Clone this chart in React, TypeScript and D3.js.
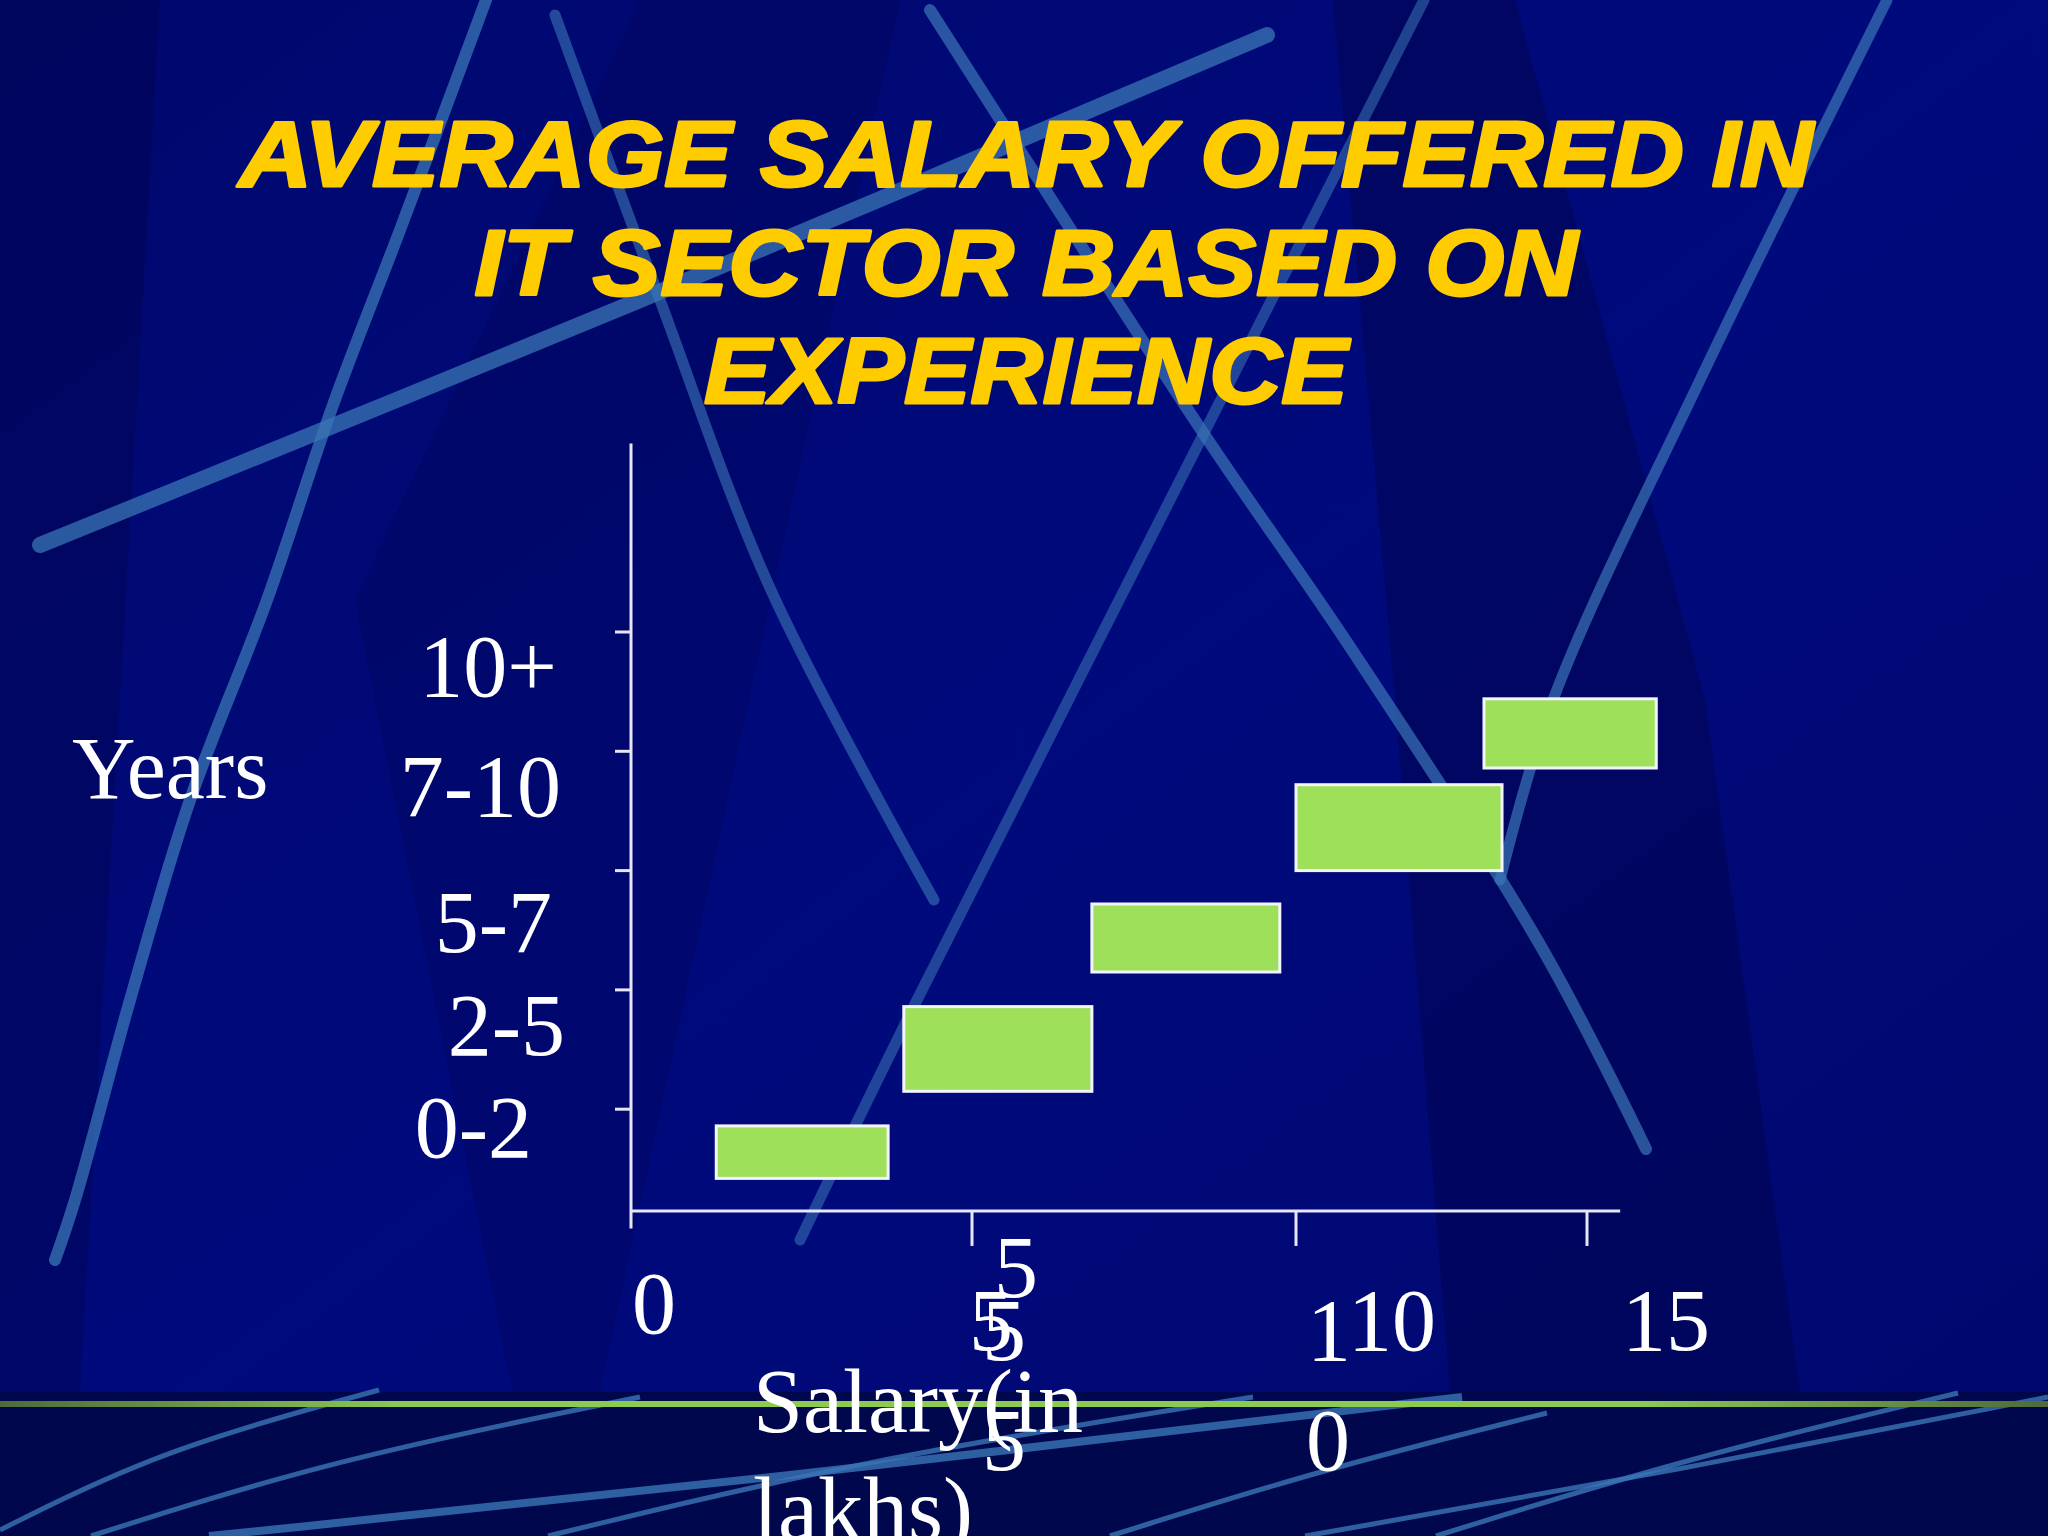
import React from "react";
import * as d3 from "d3";

// ---------- data ----------
const titleLines = ["AVERAGE SALARY OFFERED IN", "IT SECTOR BASED ON", "EXPERIENCE"];
const categories = ["0-2", "2-5", "5-7", "7-10", "10+"];
const salaryLow = [1.25, 4.0, 6.85, 10.0, 13.23];
const salaryHigh = [3.77, 6.85, 9.75, 13.54, 16.19];
const rowLow = [0.42, 1.15, 2.15, 3.0, 3.86];
const rowHigh = [0.86, 1.86, 2.72, 3.72, 4.44];
const xTickValues = [0, 5, 10, 15];
const yTickValues = [1, 2, 3, 4, 5];
const yAxisTitle = "Years";
const xAxisTitle = ["Salary(in", "lakhs)"];
// garbled x tick label fragments as they appear on the slide
const xLabelText = ["0", "5", "5", "5", "-", "5", "1", "10", "0", "15"];
const xLabelTick = [0, 5, 5, 5, 5, 5, 10, 10, 10, 15];

// ---------- layout ----------
const W = 2048;
const H = 1536;
const xLabelDx = [1, 22, -3, 10, 14, 10, 11, 52, 10, 35];
const xLabelBaseline = [1333, 1297, 1350, 1360, 1437, 1470, 1360, 1350, 1470, 1350];
const yLabelRight = [532, 565, 552, 561, 557];
const yLabelBaseline = [1157, 1055, 952, 816, 696];
const titleBaseline = [186, 295, 403];
const titleWidth = [1574, 1103, 644];

const x = d3.scaleLinear().domain([0, 5, 10, 15]).range([631, 972, 1296, 1587]);
const y = d3.scaleLinear().domain([0, 5]).range([1228.5, 632]);
const xAxisEnd = 15.57;
const yAxisTop = 6.58;
const xAxisAt = 0.147;

// decorative background streaks
const streaks: { pts: [number, number][]; w: number; o: number }[] = [
  { pts: [[40, 545], [640, 300], [1267, 35]], w: 16, o: 0.75 },
  { pts: [[486, 0], [400, 230], [333, 405], [267, 600], [190, 800], [130, 1000], [75, 1200], [55, 1260]], w: 12, o: 0.75 },
  { pts: [[555, 15], [660, 300], [770, 588], [934, 900]], w: 11, o: 0.6 },
  { pts: [[930, 10], [1202, 431], [1352, 650], [1543, 950], [1646, 1149]], w: 12, o: 0.7 },
  { pts: [[1424, 0], [1170, 500], [914, 1006], [800, 1240]], w: 11, o: 0.55 },
  { pts: [[1887, 0], [1700, 380], [1553, 700], [1500, 880]], w: 11, o: 0.7 },
];
const bandCurves: [number, number][][] = [
  [[0, 1530], [160, 1450], [379, 1390]],
  [[91, 1536], [330, 1460], [640, 1397]],
  [[209, 1536], [760, 1480], [1462, 1397]],
  [[548, 1536], [860, 1460], [1253, 1397]],
  [[1110, 1536], [1320, 1470], [1547, 1413]],
  [[1305, 1536], [1680, 1470], [2048, 1397]],
  [[1436, 1536], [1680, 1460], [1958, 1393]],
];
const shades: { pts: [number, number][]; c: string; o: number }[] = [
  { pts: [[1333, 0], [1515, 0], [1705, 700], [1800, 1392], [1450, 1392], [1395, 700]], c: "#000030", o: 0.3 },
  { pts: [[0, 0], [160, 0], [80, 1392], [0, 1392]], c: "#000030", o: 0.25 },
  { pts: [[355, 600], [640, 0], [900, 0], [600, 1392], [512, 1392]], c: "#000030", o: 0.15 },
];

const serif = "'Liberation Serif', 'Times New Roman', serif";
const sans = "'Liberation Sans', Arial, sans-serif";
const axisColor = "#E6E6F5";

export default function App() {
  const lineGen = d3.line<[number, number]>().curve(d3.curveCatmullRom.alpha(0.5));
  const bandGen = d3.line<[number, number]>().curve(d3.curveBasis);
  const polyGen = d3.line<[number, number]>();

  return (
    <svg
      width={W}
      height={H}
      viewBox={`0 0 ${W} ${H}`}
      style={{ position: "fixed", left: 0, top: 0, display: "block" }}
    >
      <defs>
        <linearGradient id="bg" x1="0" y1="0" x2="1" y2="1">
          <stop offset="0" stopColor="#00086E" />
          <stop offset="0.5" stopColor="#000A7C" />
          <stop offset="1" stopColor="#00086E" />
        </linearGradient>
        <linearGradient id="greenLine" x1="0" x2="1" y1="0" y2="0">
          <stop offset="0" stopColor="#4E6A3A" />
          <stop offset="0.2" stopColor="#8CCB50" />
          <stop offset="0.8" stopColor="#8CCB50" />
          <stop offset="1" stopColor="#4E6A3A" />
        </linearGradient>
      </defs>

      {/* background */}
      <rect x={0} y={0} width={W} height={H} fill="url(#bg)" />
      {shades.map((s, i) => (
        <path key={"sh" + i} d={polyGen(s.pts) + "Z"} fill={s.c} opacity={s.o} />
      ))}
      {streaks.map((s, i) => (
        <path
          key={"st" + i}
          d={lineGen(s.pts) || ""}
          fill="none"
          stroke="#3A76B6"
          strokeWidth={s.w}
          strokeLinecap="round"
          opacity={s.o}
        />
      ))}
      {/* bottom band */}
      <rect x={0} y={1392} width={W} height={H - 1392} fill="#00074C" />
      {bandCurves.map((c, i) => (
        <path
          key={"bc" + i}
          d={bandGen(c) || ""}
          fill="none"
          stroke="#3A76B6"
          strokeWidth={i === 2 ? 8 : 5}
          opacity={0.8}
        />
      ))}
      <rect x={0} y={1401} width={W} height={6} fill="url(#greenLine)" />

      {/* title */}
      {titleLines.map((t, i) => (
        <text
          key={"t" + i}
          x={1026}
          y={titleBaseline[i]}
          textAnchor="middle"
          fontFamily={sans}
          fontWeight="bold"
          fontStyle="italic"
          fontSize={92}
          fill="#FFCC00"
          stroke="#FFCC00"
          strokeWidth={3}
          strokeLinejoin="round"
          textLength={titleWidth[i]}
          lengthAdjust="spacingAndGlyphs"
        >
          {t}
        </text>
      ))}

      {/* bars */}
      {categories.map((c, i) => (
        <rect
          key={"bar" + c}
          x={x(salaryLow[i])}
          y={y(rowHigh[i])}
          width={x(salaryHigh[i]) - x(salaryLow[i])}
          height={y(rowLow[i]) - y(rowHigh[i])}
          fill="#9FE05A"
          stroke="#F4F4FF"
          strokeWidth={3}
        />
      ))}

      {/* axes */}
      <line x1={x(0)} x2={x(0)} y1={y(0)} y2={y(yAxisTop)} stroke={axisColor} strokeWidth={3} />
      <line x1={x(0)} x2={x(xAxisEnd)} y1={y(xAxisAt)} y2={y(xAxisAt)} stroke={axisColor} strokeWidth={3} />
      {yTickValues.map((v) => (
        <line key={"yt" + v} x1={x(0) - 16} x2={x(0)} y1={y(v)} y2={y(v)} stroke={axisColor} strokeWidth={3} />
      ))}
      {xTickValues.filter((v) => v > 0).map((v) => (
        <line key={"xt" + v} x1={x(v)} x2={x(v)} y1={y(xAxisAt)} y2={y(xAxisAt) + 35} stroke={axisColor} strokeWidth={3} />
      ))}

      {/* y labels */}
      {categories.map((c, i) => (
        <text
          key={"yl" + c}
          x={yLabelRight[i]}
          y={yLabelBaseline[i]}
          textAnchor="end"
          fontFamily={serif}
          fontSize={88}
          fill="#FFFFFF"
        >
          {c}
        </text>
      ))}
      <text x={72} y={798} fontFamily={serif} fontSize={88} fill="#FFFFFF">
        {yAxisTitle}
      </text>

      {/* x labels */}
      {xLabelText.map((t, i) => (
        <text
          key={"xl" + i}
          x={x(xLabelTick[i]) + xLabelDx[i]}
          y={xLabelBaseline[i]}
          fontFamily={serif}
          fontSize={88}
          fill="#FFFFFF"
        >
          {t}
        </text>
      ))}
      {xAxisTitle.map((t, i) => (
        <text key={"xa" + i} x={753} y={1432 + i * 108} fontFamily={serif} fontSize={90} fill="#FFFFFF">
          {t}
        </text>
      ))}
    </svg>
  );
}
